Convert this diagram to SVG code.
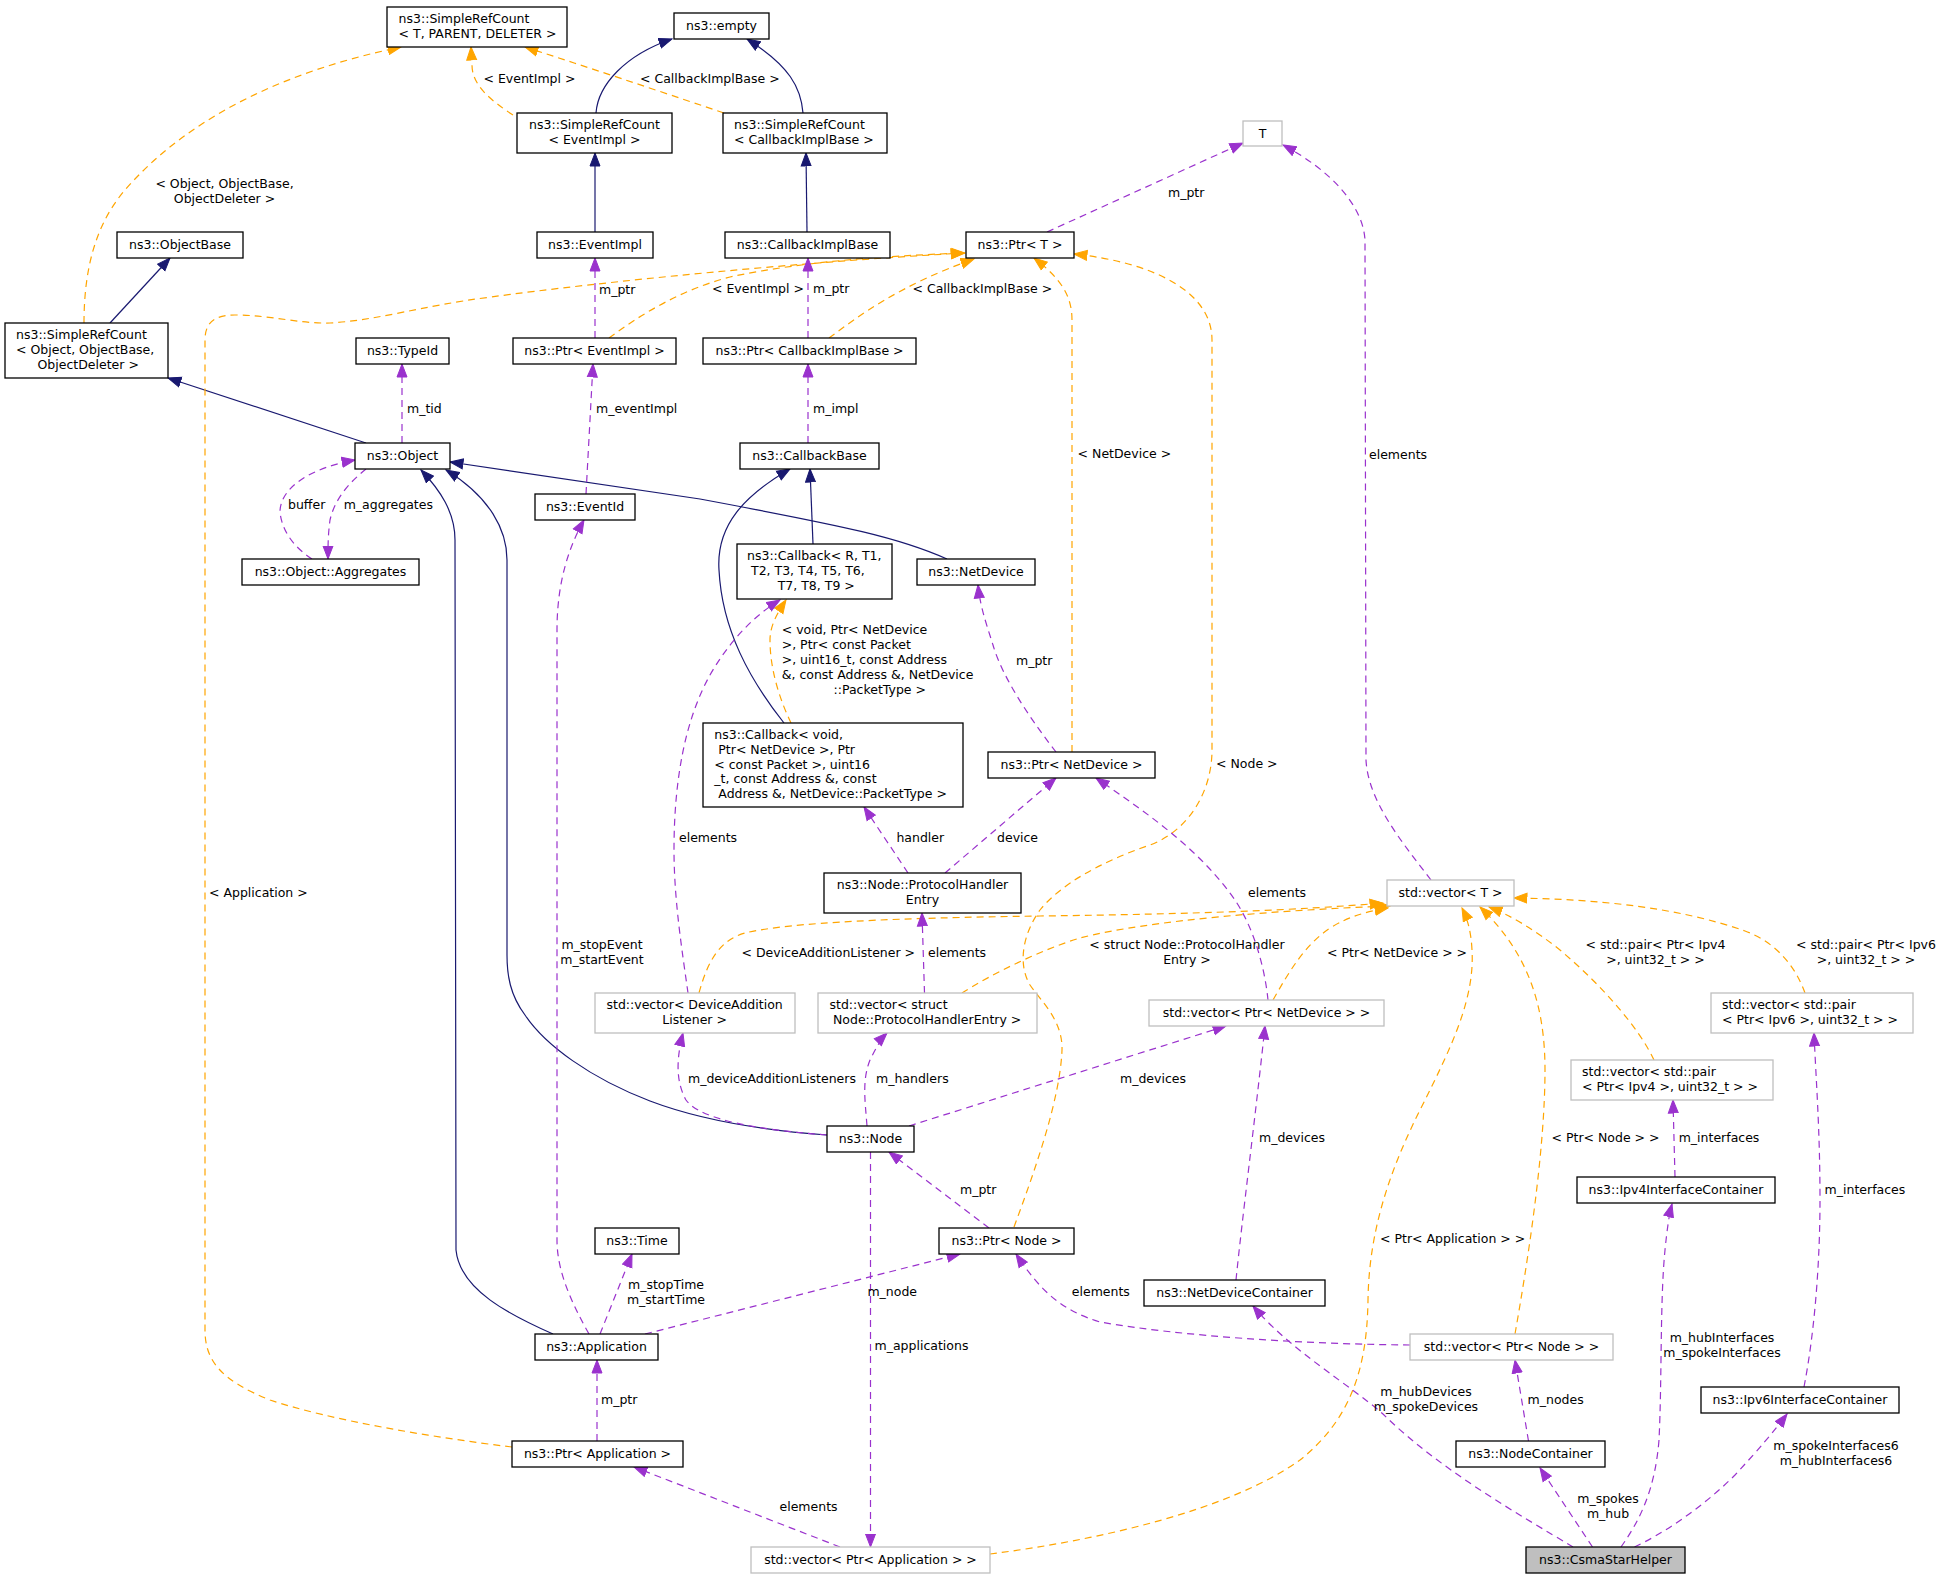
<svg xmlns="http://www.w3.org/2000/svg" width="1943" height="1576" viewBox="0 0 1943 1576">
<style>
text{font-family:"DejaVu Sans","Liberation Sans",sans-serif;font-size:12.5px;fill:#000}
.nd rect{fill:#fff;stroke:#000;stroke-width:1.3}
.gy rect{fill:#fff;stroke:#bfbfbf;stroke-width:1.3}
.hl rect{fill:#bfbfbf;stroke:#000;stroke-width:1.3}
.c{text-anchor:middle}
#edges path{fill:none;stroke-width:1.2}
#edges .i{stroke:#191970;marker-end:url(#ai)}
#edges .u{stroke:#9a32cd;stroke-dasharray:7,5;marker-end:url(#au)}
#edges .t{stroke:#ffa500;stroke-dasharray:7,5;marker-end:url(#at)}
</style>
<defs>
<marker id="ai" markerUnits="userSpaceOnUse" markerWidth="15" markerHeight="12" viewBox="0 0 15 12" refX="13.5" refY="6" orient="auto"><path d="M0.5,1 L13.5,6 L0.5,11 z" fill="#191970" stroke="#191970" stroke-width="1"/></marker>
<marker id="au" markerUnits="userSpaceOnUse" markerWidth="15" markerHeight="12" viewBox="0 0 15 12" refX="13.5" refY="6" orient="auto"><path d="M0.5,1 L13.5,6 L0.5,11 z" fill="#9a32cd" stroke="#9a32cd" stroke-width="1"/></marker>
<marker id="at" markerUnits="userSpaceOnUse" markerWidth="15" markerHeight="12" viewBox="0 0 15 12" refX="13.5" refY="6" orient="auto"><path d="M0.5,1 L13.5,6 L0.5,11 z" fill="#ffa500" stroke="#ffa500" stroke-width="1"/></marker>
</defs>
<rect x="0" y="0" width="1943" height="1576" fill="#fff"/>
<g id="edges">
<path class="i" d="M596,113 C598,85 625,55 672,39"/>
<path class="i" d="M803,113 C801,88 790,66 747,39"/>
<path class="i" d="M595,232 L595,153"/>
<path class="i" d="M807,232 L806,153"/>
<path class="i" d="M110,323 L170,258"/>
<path class="i" d="M366,443 L168,378"/>
<path class="i" d="M947,559 C900,538 850,527 700,499 L450,462"/>
<path class="i" d="M813,544 L810,469"/>
<path class="i" d="M784,723 C750,680 722,630 719,570 C716,525 745,495 790,469"/>
<path class="i" d="M827,1135 C760,1130 700,1120 650,1101 C590,1078 545,1045 525,1015 C510,995 507,975 507,955 L507,560 C507,530 490,497 446,470"/>
<path class="i" d="M553,1334 C510,1315 460,1290 456,1250 L455,540 C455,512 440,490 421,470"/>

<g><path class="t" d="M513,115 C490,100 472,85 472,65 L471,47"/><text x="483.5" y="83.4">&lt; EventImpl &gt;</text></g>
<g><path class="t" d="M724,113 C650,88 590,68 525,47"/><text x="640" y="83.4">&lt; CallbackImplBase &gt;</text></g>
<g><path class="t" d="M84,323 C84,270 95,225 125,190 C190,115 290,70 401,47"/><text class="c" x="224.5" y="188.4">&lt; Object, ObjectBase,</text><text class="c" x="224.5" y="203.4">ObjectDeleter &gt;</text></g>
<g><path class="t" d="M609,338 C640,315 680,290 730,277 C800,262 880,256 965,253"/><text x="712" y="293.4">&lt; EventImpl &gt;</text></g>
<g><path class="t" d="M829,338 C860,315 900,285 974,259"/><text x="912.5" y="293.4">&lt; CallbackImplBase &gt;</text></g>
<g><path class="t" d="M1072,752 L1072,320 C1072,295 1060,278 1034,258"/><text x="1077.6" y="458.4">&lt; NetDevice &gt;</text></g>
<g><path class="t" d="M1014,1227 C1035,1170 1060,1100 1062,1050 C1063,1020 1040,1000 1030,985 C1018,965 1022,935 1040,910 C1060,885 1100,862 1150,845 C1190,830 1212,790 1212,750 L1212,340 C1212,290 1150,262 1074,254"/><text x="1216" y="768.4">&lt; Node &gt;</text></g>
<g><path class="t" d="M512,1447 C430,1437 330,1420 270,1400 C220,1380 205,1360 205,1330 L205,340 C205,322 215,315 235,315 C270,315 300,324 330,323 C380,320 420,306 491,297 C600,282 800,262 964,253"/><text x="209" y="897">&lt; Application &gt;</text></g>
<g><path class="t" d="M791,723 C780,700 770,670 770,640 C770,625 778,612 786,600"/><text x="781.7" y="634.4">&lt; void, Ptr&lt; NetDevice</text><text x="781.7" y="649.4">&gt;, Ptr&lt; const Packet</text><text x="781.7" y="664.4">&gt;, uint16_t, const Address</text><text x="781.7" y="679.1">&amp;, const Address &amp;, NetDevice</text><text x="833.5" y="694.1">::PacketType &gt;</text></g>
<g><path class="t" d="M699,993 C708,960 720,940 745,933 C790,922 900,918 1040,916 C1200,914 1300,910 1383,903"/><text x="741.5" y="957">&lt; DeviceAdditionListener &gt;</text></g>
<g><path class="t" d="M962,993 C990,975 1040,950 1080,938 C1150,920 1280,910 1390,906"/><text class="c" x="1187" y="948.7">&lt; struct Node::ProtocolHandler</text><text class="c" x="1187" y="963.7">Entry &gt;</text></g>
<g><path class="t" d="M1273,1000 C1290,970 1305,945 1330,928 C1350,916 1365,912 1388,908"/><text x="1327" y="957">&lt; Ptr&lt; NetDevice &gt; &gt;</text></g>
<g><path class="t" d="M1515,1334 C1528,1260 1545,1150 1545,1070 C1545,1000 1525,950 1480,907"/><text x="1551.5" y="1142">&lt; Ptr&lt; Node &gt; &gt;</text></g>
<g><path class="t" d="M990,1554 C1100,1540 1230,1510 1300,1460 C1350,1420 1367,1370 1368,1300 C1369,1230 1390,1170 1420,1110 C1450,1050 1475,1000 1472,950 C1471,930 1467,918 1462,908"/><text x="1380" y="1243">&lt; Ptr&lt; Application &gt; &gt;</text></g>
<g><path class="t" d="M1654,1060 C1640,1030 1605,988 1560,950 C1535,930 1510,915 1489,907"/><text class="c" x="1655.5" y="948.7">&lt; std::pair&lt; Ptr&lt; Ipv4</text><text class="c" x="1655.5" y="963.7">&gt;, uint32_t &gt; &gt;</text></g>
<g><path class="t" d="M1805,993 C1795,965 1775,942 1745,931 C1680,908 1600,899 1514,898"/><text class="c" x="1866" y="948.7">&lt; std::pair&lt; Ptr&lt; Ipv6</text><text class="c" x="1866" y="963.7">&gt;, uint32_t &gt; &gt;</text></g>

<g><path class="u" d="M1047,232 L1243,143"/><text x="1168" y="197">m_ptr</text></g>
<g><path class="u" d="M1431,880 C1400,840 1368,800 1366,760 L1365,240 C1363,205 1330,170 1283,145"/><text x="1369" y="458.7">elements</text></g>
<g><path class="u" d="M595,338 L595,258"/><text x="599" y="294.4">m_ptr</text></g>
<g><path class="u" d="M808,338 L808,258"/><text x="813" y="293.4">m_ptr</text></g>
<g><path class="u" d="M402,443 L402,364"/><text x="407" y="413.4">m_tid</text></g>
<g><path class="u" d="M586,494 L593,364"/><text x="596" y="413.4">m_eventImpl</text></g>
<g><path class="u" d="M808,443 L808,364"/><text x="813" y="413.4">m_impl</text></g>
<g><path class="u" d="M312,559 C295,548 282,532 280,512 C280,488 310,468 355,460"/><text x="288" y="509.4">buffer</text></g>
<g><path class="u" d="M366,469 C350,482 335,498 330,520 C328,535 328,545 328,559"/><text x="343.7" y="509.4">m_aggregates</text></g>
<g><path class="u" d="M589,1334 C570,1300 557,1270 557,1240 L557,630 C557,580 570,545 584,520"/><text class="c" x="602" y="949">m_stopEvent</text><text class="c" x="602" y="963.7">m_startEvent</text></g>
<g><path class="u" d="M688,993 C682,950 674,900 674,850 C674,780 685,720 710,675 C730,640 755,615 780,600"/><text x="679" y="842.4">elements</text></g>
<g><path class="u" d="M908,873 L864,807"/><text x="896.4" y="842.4">handler</text></g>
<g><path class="u" d="M945,873 L1056,778"/><text x="997" y="842.4">device</text></g>
<g><path class="u" d="M1056,752 C1035,725 1003,680 993,645 C985,620 980,605 978,585"/><text x="1016" y="665.4">m_ptr</text></g>
<g><path class="u" d="M924.5,993 L922,913"/><text x="928" y="957">elements</text></g>
<g><path class="u" d="M1268,1000 C1265,970 1255,930 1235,900 C1200,850 1150,815 1096,778"/><text x="1248" y="897">elements</text></g>
<g><path class="u" d="M827,1135 C760,1130 700,1120 686,1100 C676,1082 676,1060 683,1033"/><text x="688" y="1083">m_deviceAdditionListeners</text></g>
<g><path class="u" d="M867,1126 C865,1100 862,1080 870,1060 C875,1050 880,1040 887,1033"/><text x="876" y="1083">m_handlers</text></g>
<g><path class="u" d="M909,1126 L1226,1026"/><text x="1120" y="1083">m_devices</text></g>
<g><path class="u" d="M870.5,1152 L870.5,1547"/><text x="874.5" y="1350">m_applications</text></g>
<g><path class="u" d="M989,1228 L889,1152"/><text x="960" y="1194">m_ptr</text></g>
<g><path class="u" d="M645,1334 L960,1254"/><text x="867.4" y="1296.3">m_node</text></g>
<g><path class="u" d="M600,1334 L632,1254"/><text class="c" x="666" y="1289.4">m_stopTime</text><text class="c" x="666" y="1304.4">m_startTime</text></g>
<g><path class="u" d="M597,1441 L597,1360"/><text x="601" y="1404">m_ptr</text></g>
<g><path class="u" d="M840,1547 L634,1467"/><text x="779.5" y="1511">elements</text></g>
<g><path class="u" d="M1410,1345 C1300,1344 1180,1336 1100,1322 C1060,1310 1040,1290 1016,1254"/><text x="1071.8" y="1296.3">elements</text></g>
<g><path class="u" d="M1236,1280 C1242,1220 1255,1120 1265,1026"/><text x="1259" y="1142.4">m_devices</text></g>
<g><path class="u" d="M1528.5,1441 L1515,1360"/><text x="1527.6" y="1404">m_nodes</text></g>
<g><path class="u" d="M1675,1177 L1673,1100"/><text x="1678.7" y="1142.4">m_interfaces</text></g>
<g><path class="u" d="M1804,1387 C1815,1330 1820,1260 1820,1200 C1820,1130 1816,1080 1814,1033"/><text x="1824.6" y="1194">m_interfaces</text></g>
<g><path class="u" d="M1573,1547 C1520,1515 1440,1470 1383,1414 C1350,1385 1290,1350 1253,1306"/><text class="c" x="1426" y="1396.4">m_hubDevices</text><text class="c" x="1426" y="1411">m_spokeDevices</text></g>
<g><path class="u" d="M1592.5,1547 L1540,1468"/><text class="c" x="1608" y="1503.4">m_spokes</text><text class="c" x="1608" y="1518.4">m_hub</text></g>
<g><path class="u" d="M1621,1547 C1640,1520 1655,1490 1659,1440 C1662,1380 1660,1300 1665,1250 C1667,1230 1669,1215 1672,1204"/><text class="c" x="1722" y="1342.4">m_hubInterfaces</text><text class="c" x="1722" y="1357.4">m_spokeInterfaces</text></g>
<g><path class="u" d="M1634.5,1547 C1660,1535 1700,1510 1735,1475 C1760,1448 1775,1430 1787,1414"/><text class="c" x="1836" y="1450.2">m_spokeInterfaces6</text><text class="c" x="1836" y="1465">m_hubInterfaces6</text></g>
</g>

<g id="n_srctpd" class="nd"><rect x="387" y="7" width="180" height="40"/><text x="398.6" y="22.8">ns3::SimpleRefCount</text><text x="398.6" y="37.6">&lt; T, PARENT, DELETER &gt;</text></g>
<g id="n_empty" class="nd"><rect x="674" y="13" width="95" height="26"/><text class="c" x="721.5" y="30">ns3::empty</text></g>
<g id="n_srcev" class="nd"><rect x="517" y="113" width="155" height="40"/><text class="c" x="594.5" y="128.8">ns3::SimpleRefCount</text><text class="c" x="594.5" y="143.6">&lt; EventImpl &gt;</text></g>
<g id="n_srccb" class="nd"><rect x="723" y="113" width="164" height="40"/><text x="734" y="128.8">ns3::SimpleRefCount</text><text x="734" y="143.6">&lt; CallbackImplBase &gt;</text></g>
<g id="n_T" class="gy"><rect x="1243" y="121" width="39" height="25"/><text class="c" x="1262.5" y="138">T</text></g>
<g id="n_objbase" class="nd"><rect x="117" y="232" width="126" height="26"/><text class="c" x="180" y="249">ns3::ObjectBase</text></g>
<g id="n_evimpl" class="nd"><rect x="537" y="232" width="116" height="26"/><text class="c" x="595" y="249">ns3::EventImpl</text></g>
<g id="n_cbimpl" class="nd"><rect x="725" y="232" width="165" height="26"/><text class="c" x="807.5" y="249">ns3::CallbackImplBase</text></g>
<g id="n_ptrT" class="nd"><rect x="966" y="232" width="108" height="26"/><text class="c" x="1020" y="249">ns3::Ptr&lt; T &gt;</text></g>
<g id="n_srcobj" class="nd"><rect x="5" y="323" width="163" height="55"/><text x="16" y="338.8">ns3::SimpleRefCount</text><text x="16" y="353.7">&lt; Object, ObjectBase,</text><text x="37.5" y="368.7">ObjectDeleter &gt;</text></g>
<g id="n_typeid" class="nd"><rect x="356" y="338" width="93" height="26"/><text class="c" x="402.5" y="355">ns3::TypeId</text></g>
<g id="n_ptrev" class="nd"><rect x="513" y="338" width="163" height="26"/><text class="c" x="594.5" y="355">ns3::Ptr&lt; EventImpl &gt;</text></g>
<g id="n_ptrcb" class="nd"><rect x="703" y="338" width="213" height="26"/><text class="c" x="809.5" y="355">ns3::Ptr&lt; CallbackImplBase &gt;</text></g>
<g id="n_object" class="nd"><rect x="355" y="443" width="95" height="26"/><text class="c" x="402.5" y="460">ns3::Object</text></g>
<g id="n_cbbase" class="nd"><rect x="740" y="443" width="139" height="26"/><text class="c" x="809.5" y="460">ns3::CallbackBase</text></g>
<g id="n_eventid" class="nd"><rect x="535" y="494" width="100" height="26"/><text class="c" x="585" y="511">ns3::EventId</text></g>
<g id="n_aggr" class="nd"><rect x="242" y="559" width="177" height="26"/><text class="c" x="330.5" y="576">ns3::Object::Aggregates</text></g>
<g id="n_cbR" class="nd"><rect x="737" y="544" width="155" height="55"/><text x="747" y="559.8">ns3::Callback&lt; R, T1,</text><text x="751" y="574.7">T2, T3, T4, T5, T6,</text><text x="777.7" y="589.7">T7, T8, T9 &gt;</text></g>
<g id="n_netdev" class="nd"><rect x="917" y="559" width="118" height="26"/><text class="c" x="976" y="576">ns3::NetDevice</text></g>
<g id="n_cbvoid" class="nd"><rect x="703" y="723" width="260" height="84"/><text x="714.3" y="738.7">ns3::Callback&lt; void,</text><text x="718.3" y="753.7">Ptr&lt; NetDevice &gt;, Ptr</text><text x="714.3" y="768.7">&lt; const Packet &gt;, uint16</text><text x="714.3" y="783.1">_t, const Address &amp;, const</text><text x="718.3" y="797.7">Address &amp;, NetDevice::PacketType &gt;</text></g>
<g id="n_ptrnd" class="nd"><rect x="988" y="752" width="167" height="26"/><text class="c" x="1071.5" y="769">ns3::Ptr&lt; NetDevice &gt;</text></g>
<g id="n_phe" class="nd"><rect x="824" y="873" width="197" height="40"/><text class="c" x="922.5" y="888.8">ns3::Node::ProtocolHandler</text><text class="c" x="922.5" y="903.6">Entry</text></g>
<g id="n_vecT" class="gy"><rect x="1387" y="880" width="127" height="26"/><text class="c" x="1450.5" y="897">std::vector&lt; T &gt;</text></g>
<g id="n_vecdal" class="gy"><rect x="595" y="993" width="200" height="40"/><text class="c" x="694.6" y="1008.8">std::vector&lt; DeviceAddition</text><text class="c" x="694.6" y="1023.6">Listener &gt;</text></g>
<g id="n_vecphe" class="gy"><rect x="818" y="993" width="219" height="40"/><text x="829.5" y="1008.8">std::vector&lt; struct</text><text x="833" y="1023.6">Node::ProtocolHandlerEntry &gt;</text></g>
<g id="n_vecptrnd" class="gy"><rect x="1149" y="1000" width="235" height="26"/><text class="c" x="1266.5" y="1017">std::vector&lt; Ptr&lt; NetDevice &gt; &gt;</text></g>
<g id="n_vecipv6" class="gy"><rect x="1711" y="993" width="202" height="40"/><text x="1722" y="1008.8">std::vector&lt; std::pair</text><text x="1722" y="1023.6">&lt; Ptr&lt; Ipv6 &gt;, uint32_t &gt; &gt;</text></g>
<g id="n_vecipv4" class="gy"><rect x="1571" y="1060" width="202" height="40"/><text x="1582" y="1075.8">std::vector&lt; std::pair</text><text x="1582" y="1090.6">&lt; Ptr&lt; Ipv4 &gt;, uint32_t &gt; &gt;</text></g>
<g id="n_node" class="nd"><rect x="827" y="1126" width="87" height="26"/><text class="c" x="870.5" y="1143">ns3::Node</text></g>
<g id="n_ipv4ic" class="nd"><rect x="1577" y="1177" width="198" height="26"/><text class="c" x="1676" y="1194">ns3::Ipv4InterfaceContainer</text></g>
<g id="n_time" class="nd"><rect x="595" y="1228" width="84" height="26"/><text class="c" x="637" y="1245">ns3::Time</text></g>
<g id="n_ptrnode" class="nd"><rect x="939" y="1228" width="135" height="26"/><text class="c" x="1006.5" y="1245">ns3::Ptr&lt; Node &gt;</text></g>
<g id="n_ndc" class="nd"><rect x="1144" y="1280" width="181" height="26"/><text class="c" x="1234.5" y="1297">ns3::NetDeviceContainer</text></g>
<g id="n_app" class="nd"><rect x="535" y="1334" width="123" height="26"/><text class="c" x="596.5" y="1351">ns3::Application</text></g>
<g id="n_vecptrnode" class="gy"><rect x="1410" y="1334" width="203" height="26"/><text class="c" x="1511.5" y="1351">std::vector&lt; Ptr&lt; Node &gt; &gt;</text></g>
<g id="n_ipv6ic" class="nd"><rect x="1701" y="1387" width="198" height="26"/><text class="c" x="1800" y="1404">ns3::Ipv6InterfaceContainer</text></g>
<g id="n_ptrapp" class="nd"><rect x="512" y="1441" width="171" height="26"/><text class="c" x="597.5" y="1458">ns3::Ptr&lt; Application &gt;</text></g>
<g id="n_nc" class="nd"><rect x="1456" y="1441" width="149" height="26"/><text class="c" x="1530.5" y="1458">ns3::NodeContainer</text></g>
<g id="n_vecptrapp" class="gy"><rect x="751" y="1547" width="239" height="26"/><text class="c" x="870.5" y="1564">std::vector&lt; Ptr&lt; Application &gt; &gt;</text></g>
<g id="n_csh" class="hl"><rect x="1526" y="1547" width="159" height="26"/><text class="c" x="1605.5" y="1564">ns3::CsmaStarHelper</text></g>
</svg>
